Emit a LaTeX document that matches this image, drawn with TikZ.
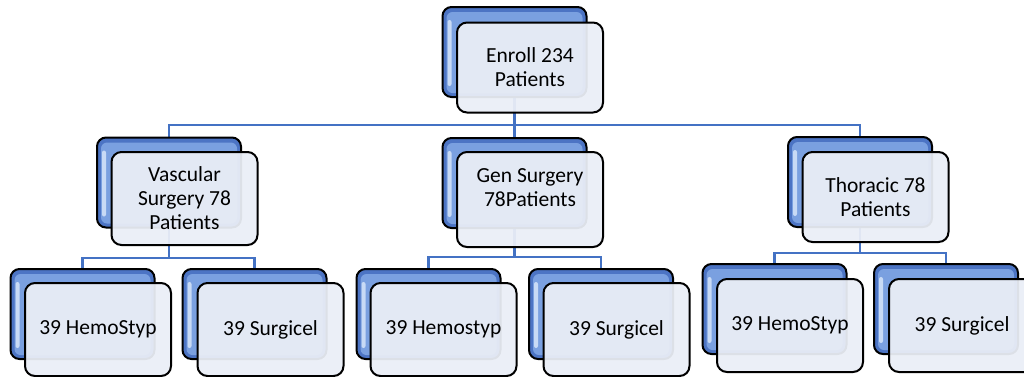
\documentclass[tikz,border=0pt]{standalone}
\usepackage{fontspec}
\setmainfont{Carlito}
\usetikzlibrary{calc}
\pgfdeclarelayer{bg}
\pgfdeclarelayer{mid}
\pgfsetlayers{bg,mid,main}
\definecolor{conn}{RGB}{68,114,196}
\definecolor{blueedge}{RGB}{76,116,196}
\definecolor{bluelight}{RGB}{122,160,224}
\definecolor{bluehi}{RGB}{200,218,245}
\definecolor{frontfill}{RGB}{234,238,246}
\tikzset{
  backbox/.style={draw=black, line width=2pt, rounded corners=9pt, minimum width=144pt, minimum height=90pt,
     fill=blueedge},
  frontbox/.style={draw=black, line width=2pt, rounded corners=10pt, minimum width=146pt, minimum height=90pt,
     fill=frontfill, fill opacity=0.94, text opacity=1, align=center,
     font=\fontsize{21.5}{24}\selectfont, text=black},
  connector/.style={draw=conn, line width=2.4pt},
  bevelfill/.style={fill=bluelight, rounded corners=6pt},
  bevelhi/.style={fill=bluehi, rounded corners=2pt}
}
\newcommand{\bevelbox}[1]{%
  \fill[bevelfill] ([shift={(5,6)}]#1.north west) rectangle ([shift={(-5,-5)}]#1.south east);
  \fill[bevelhi] ([shift={(6,14)}]#1.north west) rectangle ([shift={(10,-12)}]#1.south west);
}
\begin{document}
\begin{tikzpicture}[x=1pt,y=-1pt]
\useasboundingbox (0,0) rectangle (1024,376);
\clip (0,0) rectangle (1024,376);
% back boxes
\begin{pgfonlayer}{mid}
\node[backbox] (rootb) at (514.5,52) {};
\node[backbox] (vasb) at (169,182.5) {};
\node[backbox] (genb) at (514.5,183) {};
\node[backbox] (thob) at (860,182) {};
\node[backbox] (v1b) at (82.5,314) {};
\node[backbox] (v2b) at (254.5,314) {};
\node[backbox] (g1b) at (428.5,314) {};
\node[backbox] (g2b) at (601,314) {};
\node[backbox] (t1b) at (774.5,309) {};
\node[backbox] (t2b) at (946,309) {};
\foreach \n in {rootb,vasb,genb,thob,v1b,v2b,g1b,g2b,t1b,t2b}{\bevelbox{\n}}
\end{pgfonlayer}
% front boxes
\node[frontbox] (root) at (530,67.5) {Enroll 234\\Patients};
\node[frontbox, minimum height=93pt] (vas) at (184.5,198.5) {Vascular\\Surgery 78\\Patients};
\node[frontbox, minimum height=95pt] (gen) at (530,199.5) {Gen Surgery\\78Patients\\\mbox{}};
\node[frontbox] (tho) at (875.5,197) {Thoracic 78\\Patients};
\node[frontbox, minimum height=93pt] (v1) at (98,329.5) {39 HemoStyp};
\node[frontbox, minimum height=93pt] (v2) at (270.5,329.5) {39 Surgicel};
\node[frontbox, minimum height=93pt] (g1) at (443.5,329.5) {39 Hemostyp};
\node[frontbox, minimum height=93pt] (g2) at (616.5,329.5) {39 Surgicel};
\node[frontbox, minimum height=93pt] (t1) at (790,325.5) {39 HemoStyp};
\node[frontbox, minimum height=93pt] (t2) at (962,325.5) {39 Surgicel};
% connectors
\begin{pgfonlayer}{bg}
\coordinate (bar0) at (0,125);
\coordinate (bar1) at (0,258);
\coordinate (bar2) at (0,257);
\coordinate (bar3) at (0,253);
\draw[connector] (rootb.center) -- (rootb.center |- bar0) -| (vasb.center);
\draw[connector] (rootb.center |- bar0) -| (thob.center);
\draw[connector] (rootb.center) -- (genb.center);
\draw[connector] (vasb.center) -- (vasb.center |- bar1) -| (v1b.center);
\draw[connector] (vasb.center |- bar1) -| (v2b.center);
\draw[connector] (genb.center) -- (genb.center |- bar2) -| (g1b.center);
\draw[connector] (genb.center |- bar2) -| (g2b.center);
\draw[connector] (thob.center) -- (thob.center |- bar3) -| (t1b.center);
\draw[connector] (thob.center |- bar3) -| (t2b.center);
\end{pgfonlayer}
\end{tikzpicture}
\end{document}
